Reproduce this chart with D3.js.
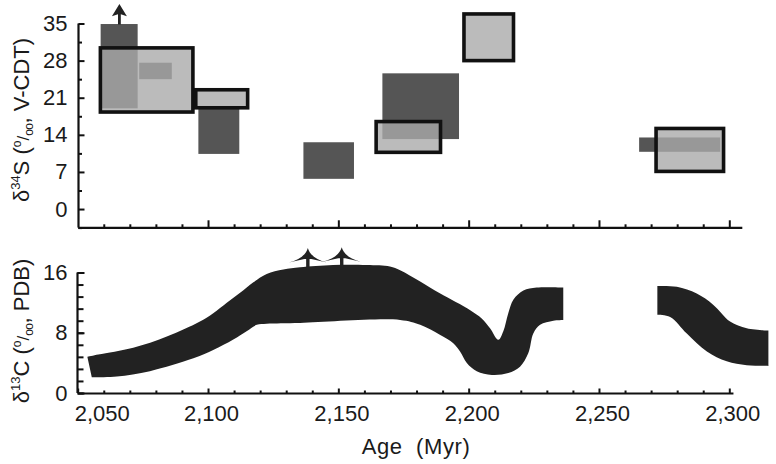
<!DOCTYPE html>
<html><head><meta charset="utf-8">
<script src="https://cdn.jsdelivr.net/npm/d3@7"></script>
<style>
body{margin:0;background:#fff}
svg text{font-family:"Liberation Sans",Arial,Helvetica,sans-serif;fill:#1a1a1a}
</style>
</head><body>
<svg id="chart" width="776" height="464"></svg>
<script>
// ---------- data ----------
const ageTicks = [2050, 2100, 2150, 2200, 2250, 2300];
const ageTickLabels = ["2,050", "2,100", "2,150", "2,200", "2,250", "2,300"];
const sulfurTicks = [0, 7, 14, 21, 28, 35];
const carbonTicks = [0, 8, 16];

// δ34S ranges: [age start, age end, δ34S low, δ34S high]
const sulfurDark = [
  [2058.8, 2073.0, 19.0, 34.9],
  [2073.6, 2086.1, 24.5, 27.6],
  [2096.3, 2112.0, 10.4, 19.4],
  [2136.6, 2156.0, 5.7, 12.6],
  [2166.9, 2196.3, 13.2, 25.6],
  [2265.4, 2296.5, 10.8, 13.5]
];
const sulfurLight = [
  [2058.7, 2094.2, 18.3, 30.4],
  [2095.3, 2115.2, 19.1, 22.5],
  [2164.5, 2189.2, 10.7, 16.5],
  [2198.2, 2217.2, 28.0, 36.8],
  [2271.9, 2297.8, 7.1, 15.2]
];
// open-ended (value exceeds range) markers: [age, value]
const sulfurArrows = [[2066.0, 34.9]];
const carbonArrows = [[2138.3, 16.8], [2151.3, 16.9]];

// δ13C envelope, segment 1 (upper and lower edges): [age, δ13C]
const carbonUpper1 = [[2053.7,4.8],[2057.9,5.1],[2071.3,6.0],[2084.2,7.5],[2096.9,9.5],[2102.0,10.6],
  [2107.2,12.0],[2112.3,13.3],[2117.4,14.7],[2122.5,15.8],[2128.9,16.4],[2135.3,16.7],[2148.0,17.0],
  [2160.9,17.0],[2169.8,16.8],[2173.7,16.3],[2181.4,14.8],[2189.1,13.2],[2200.6,11.0],[2205.0,9.9],
  [2208.2,8.6],[2211.4,7.06],[2213.3,8.2],[2215.2,10.6],[2217.2,12.4],[2221.0,13.6],[2226.1,14.0],[2236.3,14.0]];
const carbonLower1 = [[2055.4,2.1],[2065.0,2.2],[2077.7,2.9],[2094.4,4.6],[2102.0,5.7],[2109.7,7.1],
  [2114.8,8.2],[2118.7,9.05],[2122.5,9.2],[2135.3,9.3],[2173.7,9.7],[2181.4,9.05],[2189.1,7.7],
  [2194.1,6.6],[2196.7,5.5],[2199.3,4.0],[2203.1,2.9],[2208.9,2.4],[2215.2,2.65],[2219.7,3.5],
  [2222.9,5.3],[2224.8,7.9],[2227.4,9.05],[2232.5,9.6],[2236.3,9.7]];
// δ13C envelope, segment 2
const carbonUpper2 = [[2272.4,14.2],[2279.9,14.1],[2287.5,13.2],[2293.9,11.7],[2300.3,9.5],[2306.7,8.6],[2315.0,8.3]];
const carbonLower2 = [[2272.4,10.4],[2277.3,10.1],[2283.7,7.9],[2291.4,5.5],[2299.0,4.2],[2306.7,3.7],[2315.0,3.6]];

// ---------- drawing ----------
const svg = d3.select("#chart");
svg.append("rect").attr("width", 776).attr("height", 464).attr("fill", "#fff");

const x = d3.scaleLinear().domain([2050, 2300]).range([77.7, 729.3]);
const yS = d3.scaleLinear().domain([-3.5, 35]).range([227.6, 23.5]);
const yC = d3.scaleLinear().domain([0, 16]).range([393, 272.5]);

const minorAges = d3.range(2060, 2301, 10).filter(d => d % 50 !== 0);
const FS = 22;

// ----- top panel boxes -----
const gTop = svg.append("g");
function boxAttrs(sel) {
  sel.attr("x", d => x(d[0])).attr("width", d => x(d[1]) - x(d[0]))
     .attr("y", d => yS(d[3])).attr("height", d => yS(d[2]) - yS(d[3]));
}
gTop.selectAll("rect.under").data(sulfurLight).join("rect").attr("class", "under")
  .call(boxAttrs).attr("fill", "#bbbbbb");
gTop.selectAll("rect.dark").data(sulfurDark).join("rect").attr("class", "dark")
  .call(boxAttrs).attr("fill", "#555555");
gTop.selectAll("rect.light").data(sulfurLight).join("rect").attr("class", "light")
  .call(boxAttrs).attr("fill", "#bbbbbb").attr("fill-opacity", 0.66)
  .attr("stroke", "#111").attr("stroke-width", 3.6);

gTop.selectAll("path.arr").data(sulfurArrows).join("path").attr("class", "arr")
  .attr("transform", d => `translate(${x(d[0])},${yS(d[1]) - 20})`)
  .attr("d", "M0,0 L7.5,12.2 L1.4,10.2 L1.4,20.5 L-1.4,20.5 L-1.4,10.2 L-7.5,12.2 Z")
  .attr("fill", "#222");

// ----- bottom panel band -----
const gBot = svg.append("g");
const line = d3.line().x(d => x(d[0])).y(d => yC(d[1])).curve(d3.curveCatmullRom.alpha(0.5));
function bandPath(upper, lower) {
  const a = line(upper);
  const b = line(lower.slice().reverse());
  return a + "L" + b.slice(1) + "Z";
}
gBot.append("path").attr("d", bandPath(carbonUpper1, carbonLower1)).attr("fill", "#222");
gBot.append("path").attr("d", bandPath(carbonUpper2, carbonLower2)).attr("fill", "#222");

gBot.selectAll("path.arr").data(carbonArrows).join("path").attr("class", "arr")
  .attr("transform", d => `translate(${x(d[0])},${yC(d[1]) - 18.5})`)
  .attr("d", "M0,0 C1.5,6 8,12 19,14.5 L3.5,11 L1.7,11 L1.7,20 L-1.7,20 L-1.7,11 L-3.5,11 L-19,14.5 C-8,12 -1.5,6 0,0 Z")
  .attr("fill", "#222");

// ----- axes -----
function styleAxis(g) {
  g.selectAll("path.domain").attr("stroke", "#111").attr("stroke-width", 2.2);
  g.selectAll(".tick line").attr("stroke", "#111").attr("stroke-width", 2);
  g.selectAll("text").attr("font-size", FS).attr("font-family", null).attr("fill", "#1a1a1a");
}

// top x-axis (extends a bit beyond 2,300)
const xTop = x.copy().domain([2050, 2304.8]).range([x(2050), x(2304.8)]);
svg.append("g").attr("transform", "translate(0,227.3)")
  .call(d3.axisBottom(xTop).tickValues(minorAges).tickSize(-3).tickSizeOuter(0).tickFormat(""))
  .call(styleAxis);
svg.append("g").attr("transform", "translate(0,227.3)")
  .call(d3.axisBottom(xTop).tickValues(ageTicks.slice(1)).tickSize(-7).tickSizeOuter(0).tickFormat(""))
  .call(styleAxis).call(g => g.select(".domain").remove());

// top y-axis
const sMinor = d3.range(-3.5, 35, 7);
svg.append("g").attr("transform", "translate(78.5,0)")
  .call(d3.axisLeft(yS).tickValues(sMinor).tickSize(-3.5).tickSizeOuter(0).tickFormat(""))
  .call(styleAxis).call(g => g.select(".domain").attr("d", `M0,${yS(35)}V${yS(-3.5)}`));
svg.append("g").attr("transform", "translate(78.5,0)")
  .call(d3.axisLeft(yS).tickValues(sulfurTicks).tickSize(-6).tickPadding(11).tickSizeOuter(0))
  .call(styleAxis).call(g => g.select(".domain").remove());

// bottom x-axis
const xBot = x.copy().domain([2050, 2301.4]).range([x(2050), x(2301.4)]);
svg.append("g").attr("transform", "translate(0,393)")
  .call(d3.axisBottom(xBot).tickValues(minorAges).tickSize(-2.5).tickSizeOuter(0).tickFormat(""))
  .call(styleAxis);
const xLab = svg.append("g").attr("transform", "translate(0,393)")
  .call(d3.axisBottom(xBot).tickValues(ageTicks).tickSize(-4.5).tickPadding(12).tickSizeOuter(0)
    .tickFormat((d, i) => ageTickLabels[i]))
  .call(styleAxis).call(g => g.select(".domain").remove());
xLab.selectAll(".tick text").attr("dx", (d, i) => i === 0 ? 24 : 3);

// bottom y-axis
const cMinor = d3.range(0, 16.01, 1.6);
svg.append("g").attr("transform", "translate(77.5,0)")
  .call(d3.axisLeft(yC).tickValues(cMinor).tickSize(-6).tickSizeOuter(0).tickFormat(""))
  .call(styleAxis).call(g => g.select(".domain").attr("d", `M0,${yC(16)}V${yC(0)}`));
svg.append("g").attr("transform", "translate(77.5,0)")
  .call(d3.axisLeft(yC).tickValues(carbonTicks).tickSize(-7).tickPadding(10).tickSizeOuter(0))
  .call(styleAxis).call(g => g.select(".domain").remove());

// ----- axis titles -----
svg.append("text").attr("x", 416).attr("y", 454).attr("text-anchor", "middle")
  .attr("font-size", FS).attr("letter-spacing", 0.6).style("white-space", "pre").text("Age  (Myr)");

function yTitle(cx, cy, iso, rest) {
  const t = svg.append("text").attr("transform", `translate(${cx},${cy}) rotate(-90)`)
    .attr("text-anchor", "middle").attr("font-size", FS).style("white-space", "pre");
  t.append("tspan").text("δ");
  t.append("tspan").attr("font-size", 13).attr("dy", -9).text(iso);
  t.append("tspan").attr("dy", 9).text(rest[0] + " (");
  t.append("tspan").attr("font-size", 12).attr("dy", -8).text("o");
  t.append("tspan").attr("font-size", 17).attr("dy", 8).text("/");
  t.append("tspan").attr("font-size", 12).attr("dy", 4).attr("letter-spacing", -0.5).text("oo");
  t.append("tspan").attr("dy", -4).text(", " + rest[1] + ")");
}
yTitle(28.5, 120, "34", ["S", "V-CDT"]);
yTitle(28.5, 331, "13", ["C", "PDB"]);
</script>
</body></html>
